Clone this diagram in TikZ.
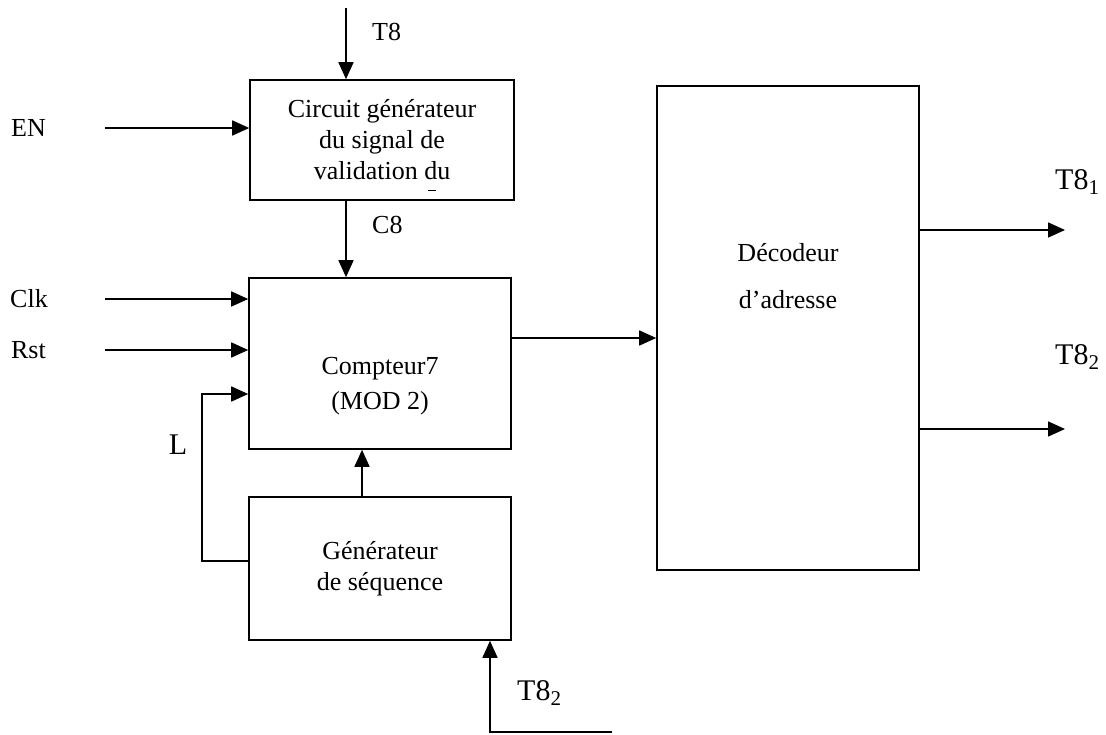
\documentclass[tikz,border=0pt]{standalone}
\usepackage{fontspec}
\setmainfont{Liberation Serif}
\usetikzlibrary{arrows.meta}
\tikzstyle{bloc}=[draw=black,line width=1.6pt,minimum width=262pt,inner sep=0pt]
\tikzstyle{txt}=[font=\fontsize{26}{31}\selectfont,align=center,inner sep=0pt]
\tikzstyle{grand}=[font=\fontsize{30}{34}\selectfont,inner sep=0pt]
\tikzstyle{fil}=[line width=1.6pt,-{Triangle[length=17pt,width=15pt]}]

\begin{document}
\begin{tikzpicture}[x=1pt,y=-1pt]
\useasboundingbox (0,0) rectangle (1106,734);
% blocs
\node[bloc,minimum width=264pt,minimum height=120pt] (circuit) at (382,140) {};
\node[txt] at (circuit.center) {Circuit générateur\\du signal de\\validation du};
\draw[line width=1.2pt] ([xshift=46pt,yshift=10pt]circuit.south) -- ++(8,0);
\node[bloc,minimum height=171pt] (compteur) at (380,363.5) {};
\node[txt,font=\fontsize{26}{35}\selectfont] at (380,386) {Compteur7\\(MOD 2)};
\node[bloc,minimum height=143pt] (generateur) at (380,568.5) {};
\node[txt] at (generateur.center) {Générateur\\de séquence};
\node[bloc,minimum height=484pt] (decodeur) at (788,328) {};
\node[txt] at (788,276) {Décodeur\\[16pt]d’adresse};

% entrees
\coordinate (t8) at (346,8);
\draw[fil] (t8) -- (t8 |- circuit.north);
\node[txt,anchor=west] at (372,32) {T8};
\draw[fil] (t8 |- circuit.south) -- (t8 |- compteur.north);
\node[txt,anchor=west] at (372,225) {C8};

\coordinate (en) at (105,128);
\coordinate (clk) at (105,299);
\coordinate (rst) at (105,350);
\node[txt,anchor=east] at (46,128) {EN};
\node[txt,anchor=east] at (48,299) {Clk};
\node[txt,anchor=east] at (46,350) {Rst};
\draw[fil] (en) -- (en -| circuit.west);
\draw[fil] (clk) -- (clk -| compteur.west);
\draw[fil] (rst) -- (rst -| compteur.west);

% rebouclage L
\coordinate (l) at (202,394);
\draw[fil] ([yshift=7.5pt]generateur.west) -| (l) -- (l -| compteur.west);
\node[grand] at (178,445) {L};
\draw[fil] ([xshift=-18pt]generateur.north) -- ([xshift=-18pt]compteur.south);

\coordinate (b) at (490,732);
\coordinate (be) at (612,732);
\draw[fil] (be) -- (b) -- (b |- generateur.south);
\node[grand,anchor=west] at (517,693) {T8\textsubscript{2}};

% sorties
\draw[fil] ([yshift=25.5pt]compteur.east) -- ([yshift=25.5pt]compteur.east -| decodeur.west);
\coordinate (s1) at (1065,230);
\coordinate (s2) at (1065,429);
\draw[fil] (s1 -| decodeur.east) -- (s1);
\draw[fil] (s2 -| decodeur.east) -- (s2);
\node[grand,anchor=west] at (1055,182) {T8\textsubscript{1}};
\node[grand,anchor=west] at (1055,357) {T8\textsubscript{2}};
\end{tikzpicture}
\end{document}
